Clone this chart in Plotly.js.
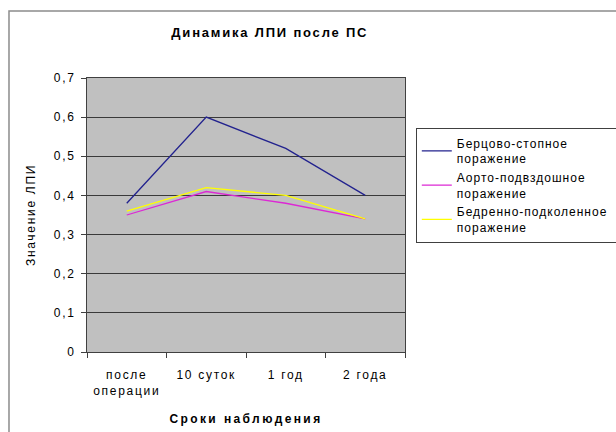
<!DOCTYPE html>
<html>
<head>
<meta charset="utf-8">
<script src="https://cdn.plot.ly/plotly-3.0.1.min.js"></script>
<style>
  html, body { margin: 0; padding: 0; background: #ffffff; }
  #chart { width: 616px; height: 432px; }
  /* wide, loosely tracked lettering of the chart text */
  svg text { letter-spacing: 1.7px; }
  .gtitle { letter-spacing: 1.8px; }
  .g-xtitle text { letter-spacing: 2.4px; }
  .legend text { letter-spacing: 1px; }
</style>
</head>
<body>
<div id="chart"></div>
<script>
// Observation periods (x categories)
const periods = ['после<br>операции', '10 суток', '1 год', '2 года'];

// ЛПИ values per lesion type
const tibialFoot = [0.38, 0.60, 0.52, 0.40];      // Берцово-стопное поражение
const aortoIliac = [0.35, 0.41, 0.38, 0.34];      // Аорто-подвздошное поражение
const femoroPopliteal = [0.36, 0.42, 0.40, 0.34]; // Бедренно-подколенное поражение

const seriesNames = [
  'Берцово-стопное<br>поражение',
  'Аорто-подвздошное<br>поражение',
  'Бедренно-подколенное<br>поражение'
];

const FONT = 'Liberation Sans, Arial, sans-serif';

const traces = [
  { x: periods, y: tibialFoot, name: seriesNames[0], type: 'scatter', mode: 'lines',
    line: { color: '#22228e', width: 1.3 } },
  { x: periods, y: aortoIliac, name: seriesNames[1], type: 'scatter', mode: 'lines',
    line: { color: '#dc28d4', width: 1.3 } },
  { x: periods, y: femoroPopliteal, name: seriesNames[2], type: 'scatter', mode: 'lines',
    line: { color: '#ffff00', width: 1.3 } }
];

const layout = {
  width: 616,
  height: 432,
  margin: { l: 87, r: 211, t: 78, b: 80 },
  paper_bgcolor: '#ffffff',
  plot_bgcolor: '#c0c0c0',
  separators: ', ',
  font: { family: FONT, size: 12, color: '#000000' },
  showlegend: true,
  title: {
    text: '<b>Динамика ЛПИ после ПС</b>',
    font: { family: FONT, size: 13, color: '#000000' },
    xref: 'container', x: 0.438, xanchor: 'center',
    yref: 'container', y: 0.924, yanchor: 'middle'
  },
  xaxis: {
    type: 'category',
    range: [-0.5, 3.5],
    tickson: 'boundaries',
    ticks: 'outside',
    ticklen: 5,
    tickcolor: '#404040',
    ticklabelstandoff: 12,
    showgrid: false,
    showline: true,
    linecolor: '#404040',
    mirror: true,
    tickfont: { family: FONT, size: 12 },
    title: { text: '<b>Сроки наблюдения</b>', font: { family: FONT, size: 12 }, standoff: 17 }
  },
  yaxis: {
    range: [0, 0.7],
    dtick: 0.1,
    ticks: 'outside',
    ticklen: 5,
    tickcolor: '#404040',
    ticklabelstandoff: 3,
    showgrid: true,
    gridcolor: '#3a3a3a',
    gridwidth: 1,
    zeroline: false,
    showline: true,
    linecolor: '#404040',
    mirror: true,
    tickfont: { family: FONT, size: 12 },
    title: { text: 'Значение ЛПИ', font: { family: FONT, size: 12 }, standoff: 15 }
  },
  legend: {
    xref: 'container', x: 0.675, xanchor: 'left',
    yref: 'container', y: 0.704, yanchor: 'top',
    bgcolor: '#ffffff',
    bordercolor: '#404040',
    borderwidth: 1,
    font: { family: FONT, size: 12 },
    tracegroupgap: 0,
    itemwidth: 30
  },
  shapes: [
    // outer chart frame
    { type: 'rect', xref: 'paper', yref: 'paper',
      x0: -0.2453, x1: 1.68, y0: -0.31, y1: 1.2445,
      line: { color: '#8c8c8c', width: 1.5 }, fillcolor: 'rgba(0,0,0,0)', layer: 'below' }
  ]
};

Plotly.newPlot('chart', traces, layout, { displayModeBar: false, staticPlot: true });
</script>
</body>
</html>
